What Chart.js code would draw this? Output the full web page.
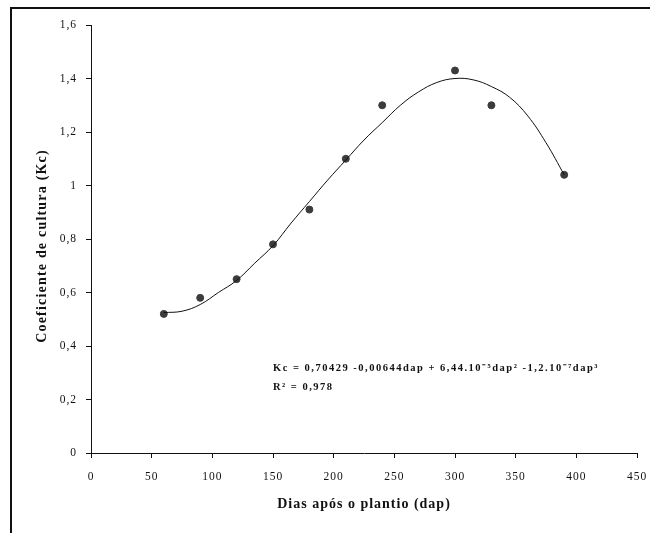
<!DOCTYPE html>
<html>
<head>
<meta charset="utf-8">
<script src="https://cdn.jsdelivr.net/npm/chart.js@4"></script>
<style>
  body { margin: 0; background: #fff; }
  canvas { display: block; }
</style>
</head>
<body>
<canvas id="kcChart" width="650" height="533"></canvas>
<script>
// observed Kc values
const dapObs = [60, 90, 120, 150, 180, 210, 240, 300, 330, 390];
const kcObs = [0.52, 0.58, 0.65, 0.78, 0.91, 1.10, 1.30, 1.43, 1.30, 1.04];

// fitted curve
const dapFit = [60, 75, 90, 105, 120, 135, 150, 165, 180, 195, 210, 225, 240, 255, 270, 285, 300, 315, 330, 345, 360, 375, 390];
const kcFit = [0.525, 0.53, 0.555, 0.60, 0.645, 0.71, 0.775, 0.86, 0.94, 1.02, 1.095, 1.17, 1.235, 1.30, 1.35, 1.385, 1.40, 1.395, 1.37, 1.33, 1.26, 1.16, 1.04];

const equationLines = [
  "Kc = 0,70429 -0,00644dap + 6,44.10\u207B\u2075dap\u00B2 -1,2.10\u207B\u2077dap\u00B3",
  "R\u00B2 = 0,978"
];
const yTitle = "Coeficiente de cultura (Kc)";

const serif = "'Liberation Serif', 'Times New Roman', serif";

// frame, y title and the regression text
const extras = {
  id: "extras",
  beforeDraw(chart) {
    const ctx = chart.ctx;
    ctx.save();
    ctx.strokeStyle = "#111";
    ctx.lineWidth = 2;
    ctx.strokeRect(11, 8, 700, 600);
    ctx.restore();
    // the original text is set loosely
    ctx.letterSpacing = "1px";
  },
  afterDraw(chart) {
    const ctx = chart.ctx;
    const area = chart.chartArea;
    ctx.save();
    ctx.fillStyle = "#111";
    ctx.font = "bold 14px " + serif;
    ctx.letterSpacing = "1.2px";
    ctx.textAlign = "center";
    ctx.textBaseline = "middle";
    ctx.translate(42, (area.top + area.bottom) / 2 + 7);
    ctx.rotate(-Math.PI / 2);
    ctx.fillText(yTitle, 0, 0);
    ctx.restore();

    const x = chart.scales.x.getPixelForValue(150);
    ctx.save();
    ctx.fillStyle = "#111";
    ctx.font = "bold 10.5px " + serif;
    ctx.letterSpacing = "1.5px";
    ctx.textBaseline = "middle";
    ctx.fillText(equationLines[0], x, chart.scales.y.getPixelForValue(0.318));
    ctx.fillText(equationLines[1], x, chart.scales.y.getPixelForValue(0.246));
    ctx.restore();
    ctx.letterSpacing = "0px";
  }
};

new Chart(document.getElementById("kcChart"), {
  type: "scatter",
  data: {
    datasets: [
      {
        type: "line",
        data: dapFit.map((d, i) => ({ x: d, y: kcFit[i] })),
        borderColor: "#111",
        borderWidth: 1,
        pointRadius: 0,
        tension: 0.4,
        fill: false
      },
      {
        data: dapObs.map((d, i) => ({ x: d, y: kcObs[i] })),
        backgroundColor: "#3c3c3c",
        borderColor: "#3c3c3c",
        pointRadius: 3.5,
        pointStyle: "circle"
      }
    ]
  },
  options: {
    responsive: false,
    animation: false,
    layout: { padding: { top: 25, right: 13, left: 0, bottom: 0 } },
    plugins: { legend: { display: false }, tooltip: { enabled: false } },
    scales: {
      x: {
        type: "linear",
        min: 0,
        max: 450,
        afterFit: s => { s.height = 80; s.paddingLeft = 0; s.paddingRight = 0; },
        ticks: { stepSize: 50, padding: 12, color: "#111", font: { family: serif, size: 11.5 } },
        grid: { drawOnChartArea: false, drawTicks: true, tickLength: 5, color: "#111" },
        border: { color: "#111", width: 1 },
        title: {
          display: true,
          text: "Dias após o plantio (dap)",
          color: "#111",
          font: { family: serif, size: 14, weight: "bold" },
          padding: { bottom: 20 }
        }
      },
      y: {
        min: 0,
        max: 1.6,
        afterFit: s => { s.width = 91; },
        ticks: {
          stepSize: 0.2,
          padding: 9,
          color: "#111",
          font: { family: serif, size: 11.5 },
          callback: v => String(Math.round(v * 10) / 10).replace(".", ",")
        },
        grid: { drawOnChartArea: false, drawTicks: true, tickLength: 5, color: "#111" },
        border: { color: "#111", width: 1 },
        title: { display: false }
      }
    }
  },
  plugins: [extras]
});
</script>
</body>
</html>
